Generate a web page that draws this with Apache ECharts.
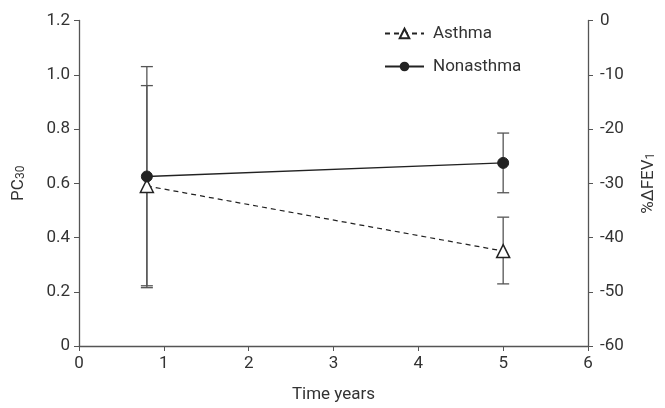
<!DOCTYPE html>
<html><head><meta charset="utf-8">
<script src="https://cdn.jsdelivr.net/npm/echarts@6/dist/echarts.min.js"></script>
<style>html,body{margin:0;padding:0;background:#fff}#c{width:665px;height:408px}</style>
</head><body><div id="c"></div>
<script>
const timeYears = [0.8, 5];
const asthmaPC30 = [0.59, 0.35];
const asthmaLow = [0.215, 0.229];
const asthmaHigh = [0.96, 0.475];
const nonasthmaPC30 = [0.625, 0.675];
const nonasthmaLow = [0.222, 0.565];
const nonasthmaHigh = [1.03, 0.785];
const xTicks = [0, 1, 2, 3, 4, 5, 6];

const FONT = 'Roboto';
const FS = 17;
const chart = echarts.init(document.getElementById('c'), null, {renderer: 'canvas'});

function errData(lo, hi) { return timeYears.map((x, i) => [x, lo[i], hi[i]]); }
function errRender(params, api) {
  const x = api.value(0);
  const lo = api.coord([x, api.value(1)]);
  const hi = api.coord([x, api.value(2)]);
  const w = 6;
  const st = {stroke: '#555', lineWidth: 1.3};
  return {type: 'group', children: [
    {type: 'line', shape: {x1: lo[0], y1: lo[1], x2: hi[0], y2: hi[1]}, style: st},
    {type: 'line', shape: {x1: lo[0]-w, y1: lo[1], x2: lo[0]+w, y2: lo[1]}, style: st},
    {type: 'line', shape: {x1: hi[0]-w, y1: hi[1], x2: hi[0]+w, y2: hi[1]}, style: st}
  ]};
}

chart.setOption({
  animation: false,
  textStyle: {fontFamily: FONT},
  grid: {left: 79, right: 77, top: 20.5, bottom: 61},
  legend: {
    orient: 'vertical', left: 379, top: 20, itemGap: 16, itemWidth: 39, itemHeight: 12,
    textStyle: {fontFamily: FONT, fontSize: FS, color: '#333', padding: [0, 0, 0, 4]},
    data: ['Asthma', 'Nonasthma']
  },
  xAxis: {
    type: 'value', min: 0, max: 6, interval: 1,
    name: 'Time years', nameLocation: 'middle', nameGap: 40,
    nameTextStyle: {fontFamily: FONT, fontSize: FS, color: '#333'},
    axisLine: {lineStyle: {color: '#555', width: 1.3}},
    axisTick: {show: true, length: 5, lineStyle: {color: '#555'}},
    axisLabel: {fontFamily: FONT, fontSize: FS, color: '#333', margin: 9},
    splitLine: {show: false}
  },
  yAxis: [{
    type: 'value', min: 0, max: 1.2, interval: 0.2, position: 'left',
    name: '{m|PC}{s|30}', nameLocation: 'middle', nameGap: 52, nameRotate: 90,
    nameTextStyle: {rich: {m: {fontFamily: FONT, fontSize: FS, color: '#333'}, s: {fontFamily: FONT, fontSize: 12, color: '#333', padding: [5, 0, 0, 0]}}},
    axisLine: {show: true, lineStyle: {color: '#555', width: 1.3}},
    axisTick: {show: true, length: 5, lineStyle: {color: '#555'}},
    axisLabel: {fontFamily: FONT, fontSize: FS, color: '#333', margin: 9,
      formatter: v => v === 0 ? '0' : v.toFixed(1)},
    splitLine: {show: false}
  }, {
    type: 'value', min: -60, max: 0, interval: 10, position: 'right',
    name: '{m|%ΔFEV}{s|1}', nameLocation: 'middle', nameGap: 52, nameRotate: 90,
    nameTextStyle: {rich: {m: {fontFamily: FONT, fontSize: FS, color: '#333'}, s: {fontFamily: FONT, fontSize: 12, color: '#333', padding: [5, 0, 0, 0]}}},
    axisLine: {show: true, lineStyle: {color: '#555', width: 1.3}},
    axisTick: {show: true, length: 5, lineStyle: {color: '#555'}},
    axisLabel: {fontFamily: FONT, fontSize: FS, color: '#333', margin: 12},
    splitLine: {show: false}
  }],
  series: [
    {type: 'custom', name: 'errA', renderItem: errRender, data: errData(asthmaLow, asthmaHigh), z: 1, silent: true},
    {type: 'custom', name: 'errN', renderItem: errRender, data: errData(nonasthmaLow, nonasthmaHigh), z: 1, silent: true},
    {
      type: 'line', name: 'Asthma', data: timeYears.map((x, i) => [x, asthmaPC30[i]]),
      symbol: 'triangle', symbolSize: 13, showAllSymbol: true, z: 3,
      lineStyle: {color: '#222', width: 1.2, type: [5, 4]},
      itemStyle: {color: '#fff', borderColor: '#222', borderWidth: 1.5}
    },
    {
      type: 'line', name: 'Nonasthma', data: timeYears.map((x, i) => [x, nonasthmaPC30[i]]),
      symbol: 'circle', symbolSize: 11, showAllSymbol: true, z: 4,
      lineStyle: {color: '#222', width: 1.4},
      itemStyle: {color: '#222', borderColor: '#222'}
    }
  ]
});
</script></body></html>
